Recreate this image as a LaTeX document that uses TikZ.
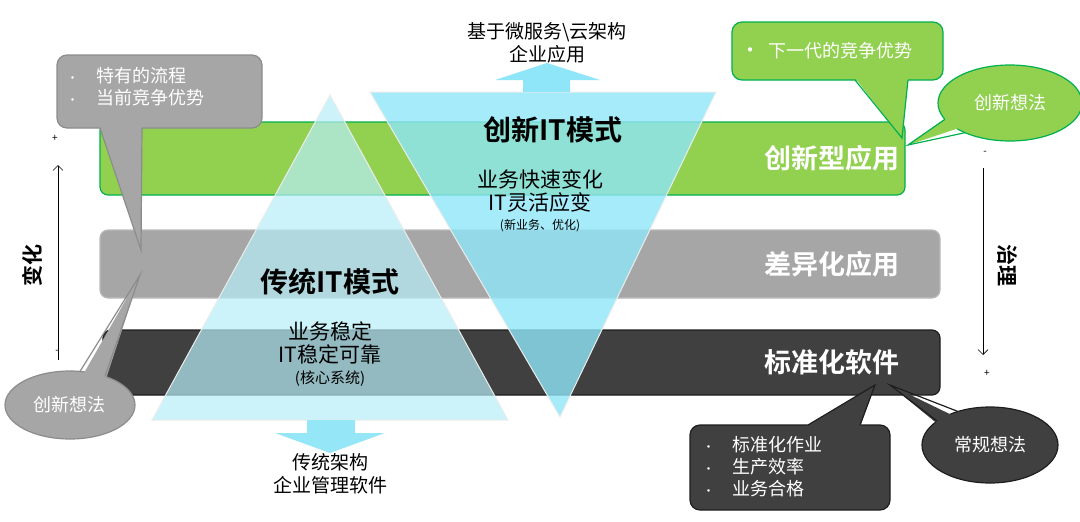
\documentclass[tikz,border=0pt]{standalone}
\usepackage{fontspec}
\setmainfont{Noto Sans CJK SC}[BoldFont={Noto Sans CJK SC Bold}]
\usetikzlibrary{shapes.geometric,arrows.meta}
\definecolor{bandgreen}{HTML}{92D050}
\definecolor{linegreen}{HTML}{00B050}
\definecolor{bandgray}{HTML}{A6A6A6}
\definecolor{linegray}{HTML}{8C8C8C}
\definecolor{banddark}{HTML}{404040}
\definecolor{linedark}{HTML}{1E1E1E}
\definecolor{tricyan}{HTML}{B8EEF8}
\definecolor{invcyan}{HTML}{8FE6F8}
\newcommand{\dotitem}[1]{{\fontsize{12}{22}\selectfont•}\quad #1}
\tikzset{
  band/.style={rounded corners=8pt,line width=1.2pt},
  bandtext/.style={text=white,font=\bfseries\fontsize{27}{30}\selectfont,anchor=center},
  bubble/.style={rounded corners=10pt,line width=1.2pt,text=white,align=left,inner sep=6pt,anchor=north west,font=\fontsize{18}{22}\selectfont},
  cloud/.style={ellipse,line width=1.2pt,text=white,font=\fontsize{18}{20}\selectfont,inner sep=0pt},
  inner/.style={font=\fontsize{21}{23}\selectfont,align=center},
  bigtitle/.style={font=\bfseries\fontsize{28}{30}\selectfont},
}
\begin{document}
\begin{tikzpicture}[x=1pt,y=-1pt]
 \useasboundingbox (0,0) rectangle (1080,522);
 % bands
 \draw[band,fill=bandgreen,draw=linegreen] (100,122) rectangle (905,195);
 \draw[band,fill=bandgray,draw=linegray!60] (100,230) rectangle (940,298);
 \draw[band,fill=banddark,draw=linedark] (103,330) rectangle (940,395);
 \node[bandtext] (inno) at (832,158) {创新型应用};
 \node[bandtext] (diff) at (832,264) {差异化应用};
 \node[bandtext] (std) at (832,362) {标准化软件};

 % triangles
 \coordinate (tapex) at (330,95);
 \coordinate (tl) at (152,420);
 \coordinate (tr) at (508,420);
 \fill[tricyan,opacity=0.7] (tapex) -- (tl) -- (tr) -- cycle;
 \draw[white!85!gray,line width=1pt] (tapex) -- (tl) -- (tr) -- cycle;
 \coordinate (il) at (370,92);
 \coordinate (ir) at (716,92);
 \coordinate (iapex) at (560,417);
 \fill[invcyan,opacity=0.8] (il) -- (ir) -- (iapex) -- cycle;
 \draw[white!85!gray,line width=1pt] (il) -- (ir) -- (iapex) -- cycle;

 % arrows out of triangles
 \coordinate (uptip) at (547,63);
 \fill[invcyan] (523,92) -- (523,80) -- (495,80) -- (uptip) -- (600,80) -- (570,80) -- (570,92) -- cycle;
 \coordinate (dntip) at (330,453);
 \fill[invcyan!85!tricyan] (307,420) -- (307,433) -- (275,433) -- (dntip) -- (385,433) -- (355,433) -- (355,420) -- cycle;
 \node[inner,font=\fontsize{19}{23}\selectfont,anchor=south] (cloudapp) at ([yshift=-4pt]uptip) {基于微服务\textbackslash 云架构\\企业应用};
 \node[inner,font=\fontsize{19}{23}\selectfont,anchor=north] (legacy) at ([yshift=3pt]dntip) {传统架构\\企业管理软件};

 % triangle texts
 \node[bigtitle] (newit) at (553,130) {创新IT模式};
 \node[inner] (newtxt) at (540,191) {业务快速变化\\IT灵活应变};
 \node[font=\fontsize{12}{14}\selectfont] (newsub) at (540,226) {(新业务、优化)};
 \node[bigtitle] (oldit) at (330,282) {传统IT模式};
 \node[inner] (oldtxt) at (330,343) {业务稳定\\IT稳定可靠};
 \node[font=\fontsize{15}{17}\selectfont] (oldsub) at (330,379) {(核心系统)};

 % side arrows
 \coordinate (lb) at (58,360);
 \coordinate (lt) at (58,165);
 \draw[-{Straight Barb[length=5pt]},line width=0.6pt] (lb) -- (lt);
 \node (lplus) at (55,138) {+};
 \node (lminus) at (57,352) {-};
 \node[rotate=90,font=\bfseries\fontsize{21}{24}\selectfont] (change) at (32,265) {变化};
 \coordinate (rt) at (983,168);
 \coordinate (rb) at (983,355);
 \draw[-{Straight Barb[length=5pt]},line width=0.6pt] (rt) -- (rb);
 \node (rminus) at (985,153) {-};
 \node (rplus) at (987,373) {+};
 \node[rotate=-90,font=\bfseries\fontsize{21}{24}\selectfont] (govern) at (1007,265) {治理};

 % callouts: gray
 \draw[bubble,fill=bandgray,draw=linegray] (57,55) rectangle (262,128);
 \node[bubble] (graytxt) at (60,61) {\dotitem{特有的流程}\\\dotitem{当前竞争优势}};
 \coordinate (gtip) at (141,250);
 \fill[bandgray] (100,126) -- (gtip) -- (142,126) -- cycle;
 \draw[linegray,line width=1.2pt] (100,128) -- (gtip) -- (142,128);
 \coordinate (ctip) at (140,275);
 \node[cloud,fill=bandgray,draw=linegray,minimum width=130pt,minimum height=68pt] (grayidea) at (70,405) {创新想法};
 \fill[bandgray] (80,380) -- (ctip) -- (105,382) -- cycle;
 \draw[linegray,line width=1.2pt] (80,371.4) -- (ctip) -- (105,376.4);

 % callouts: green
 \draw[bubble,fill=bandgreen,draw=linegreen] (732,22) rectangle (943,80);
 \node[bubble] (greentxt) at (734,36) {{\fontsize{20}{20}\selectfont•}\ \ 下一代的竞争优势};
 \coordinate (ptip) at (902,138);
 \fill[bandgreen] (855,78) -- (ptip) -- (908,78) -- cycle;
 \draw[linegreen,line width=1.2pt] (855,80) -- (ptip) -- (908,80);
 \node[cloud,fill=bandgreen,draw=linegreen,minimum width=144pt,minimum height=76pt] (greenidea) at (1010,103) {创新想法};
 \coordinate (etip) at (908,145);
 \fill[bandgreen] (950,115) -- (etip) -- (968,125) -- cycle;
 \draw[linegreen,line width=1.2pt] (945,119.3) -- (etip) -- (965,132.7);

 % callouts: dark
 \draw[bubble,fill=banddark,draw=linedark] (690,425) rectangle (890,510);
 \node[bubble] (darktxt) at (696,430) {\dotitem{标准化作业}\\\dotitem{生产效率}\\\dotitem{业务合格}};
 \coordinate (dtip) at (875,385);
 \fill[banddark] (805,427) -- (dtip) -- (860,427) -- cycle;
 \draw[linedark,line width=1.2pt] (808,425) -- (dtip) -- (860,425);
 \node[cloud,fill=banddark,draw=linedark,minimum width=136pt,minimum height=76pt] (darkidea) at (990,445) {常规想法};
 \coordinate (ftip) at (890,385);
 \fill[banddark] (945,430) -- (ftip) -- (962,420) -- cycle;
 \draw[linedark,line width=1.2pt] (937,421) -- (ftip) -- (958,411.5);
\end{tikzpicture}
\end{document}
